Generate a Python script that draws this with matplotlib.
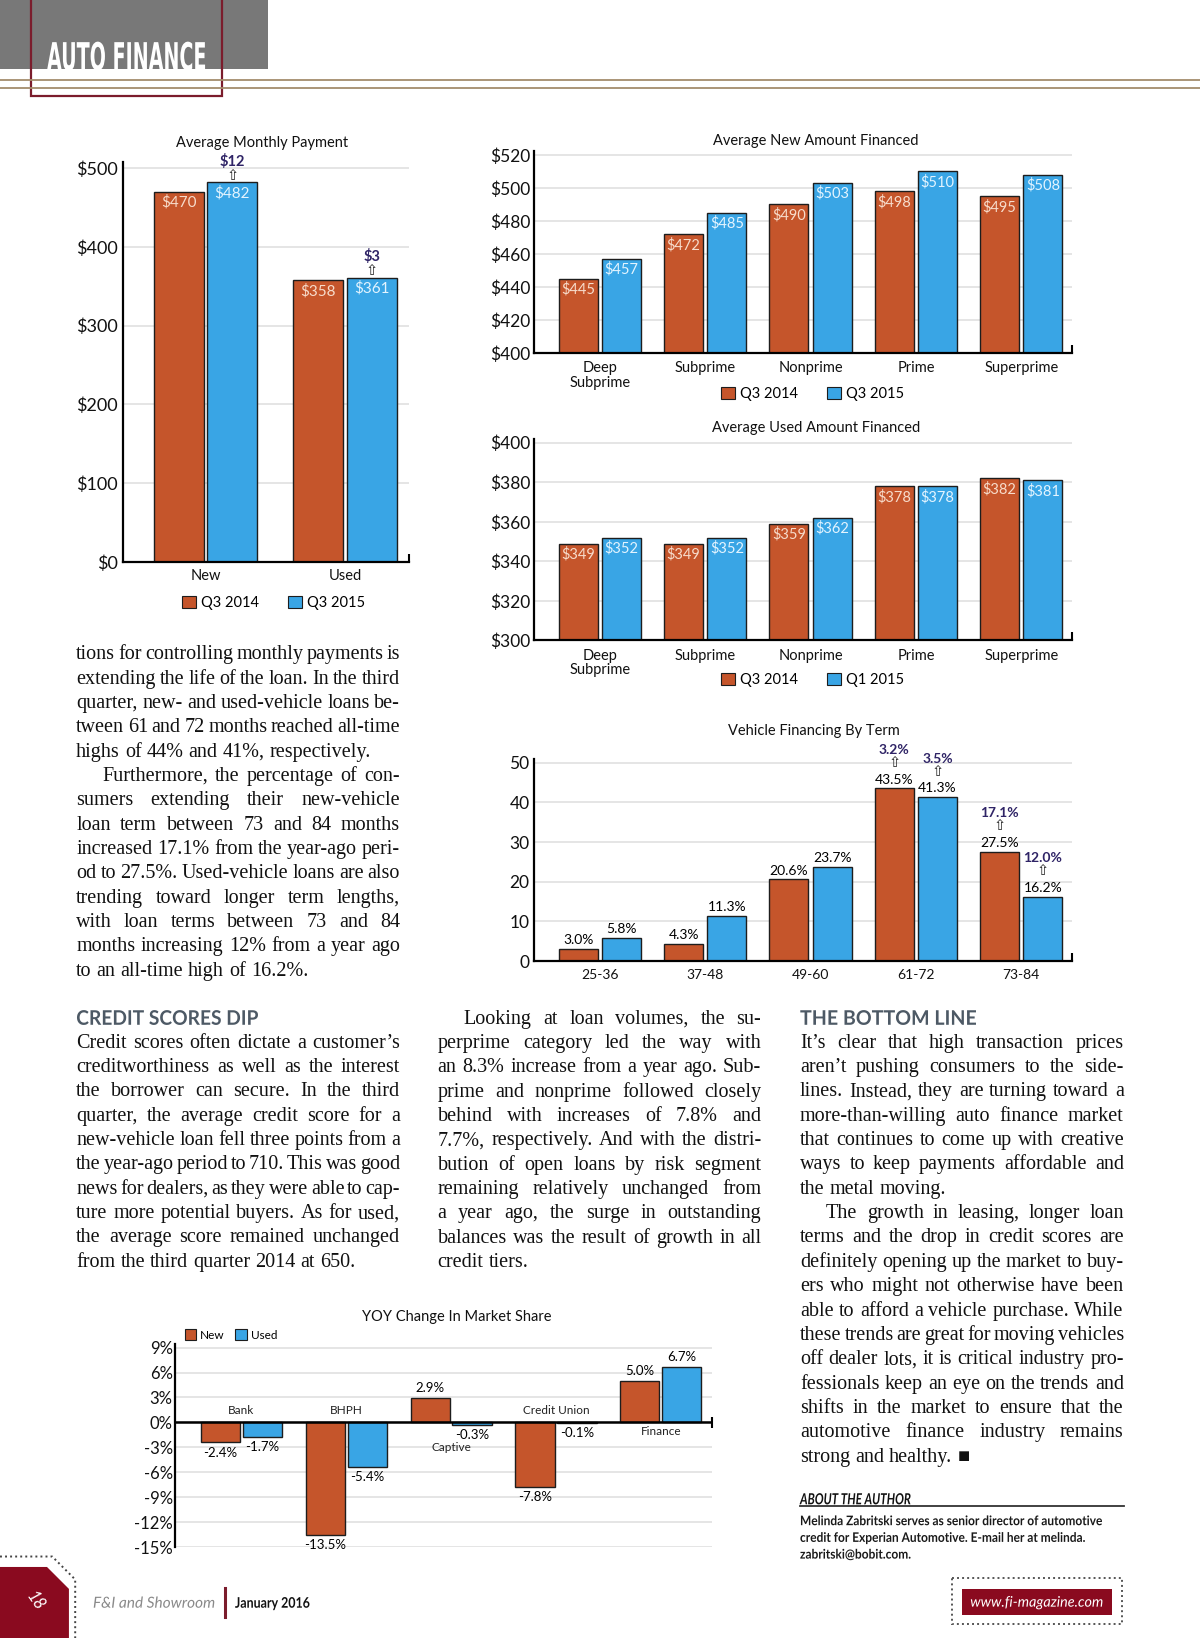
"""Auto Finance magazine page: five bar charts plus the article text."""

import numpy as np
import matplotlib
matplotlib.use('Agg')
import matplotlib.pyplot as plt
from matplotlib import patheffects
from matplotlib.font_manager import FontProperties
from matplotlib.patches import Rectangle, Polygon, Patch
from matplotlib.transforms import Affine2D

# ---------------------------------------------------------------- data
pay_cats = ['New', 'Used']
pay_q3_2014 = [470, 358]
pay_q3_2015 = [482, 361]
pay_up = ['$12', '$3']

risk_cats = ['Deep\nSubprime', 'Subprime', 'Nonprime', 'Prime', 'Superprime']
new_q3_2014 = [445, 472, 490, 498, 495]
new_q3_2015 = [457, 485, 503, 510, 508]
used_q3_2014 = [349, 349, 359, 378, 382]
used_q1_2015 = [352, 352, 362, 378, 381]

term_cats = ['25-36', '37-48', '49-60', '61-72', '73-84']
term_q3_2014 = [3.0, 4.3, 20.6, 43.5, 27.5]
term_q3_2015 = [5.8, 11.3, 23.7, 41.3, 16.2]
term_up_2014 = ['', '', '', '3.2%', '17.1%']
term_up_2015 = ['', '', '', '3.5%', '12.0%']

lender_cats = ['Bank', 'BHPH', 'Captive', 'Credit Union', 'Finance']
share_new = [-2.4, -13.5, 2.9, -7.8, 5.0]
share_used = [-1.7, -5.4, -0.3, -0.1, 6.7]

# article text, (indent first line, lines)
col1_top = [
    (False, ["tions for controlling monthly payments is",
             "extending the life of the loan. In the third",
             "quarter, new- and used-vehicle loans be-",
             "tween 61 and 72 months reached all-time",
             "highs of 44% and 41%, respectively."]),
    (True, ["Furthermore, the percentage of con-",
            "sumers extending their new-vehicle",
            "loan term between 73 and 84 months",
            "increased 17.1% from the year-ago peri-",
            "od to 27.5%. Used-vehicle loans are also",
            "trending toward longer term lengths,",
            "with loan terms between 73 and 84",
            "months increasing 12% from a year ago",
            "to an all-time high of 16.2%."]),
]
col1_bottom = [
    (False, ["Credit scores often dictate a customer\u2019s",
             "creditworthiness as well as the interest",
             "the borrower can secure. In the third",
             "quarter, the average credit score for a",
             "new-vehicle loan fell three points from a",
             "the year-ago period to 710. This was good",
             "news for dealers, as they were able to cap-",
             "ture more potential buyers. As for used,",
             "the average score remained unchanged",
             "from the third quarter 2014 at 650."]),
]
col2 = [
    (True, ["Looking at loan volumes, the su-",
            "perprime category led the way with",
            "an 8.3% increase from a year ago. Sub-",
            "prime and nonprime followed closely",
            "behind with increases of 7.8% and",
            "7.7%, respectively. And with the distri-",
            "bution of open loans by risk segment",
            "remaining relatively unchanged from",
            "a year ago, the surge in outstanding",
            "balances was the result of growth in all",
            "credit tiers."]),
]
col3 = [
    (False, ["It\u2019s clear that high transaction prices",
             "aren\u2019t pushing consumers to the side-",
             "lines. Instead, they are turning toward a",
             "more-than-willing auto finance market",
             "that continues to come up with creative",
             "ways to keep payments affordable and",
             "the metal moving."]),
    (True, ["The growth in leasing, longer loan",
            "terms and the drop in credit scores are",
            "definitely opening up the market to buy-",
            "ers who might not otherwise have been",
            "able to afford a vehicle purchase. While",
            "these trends are great for moving vehicles",
            "off dealer lots, it is critical industry pro-",
            "fessionals keep an eye on the trends and",
            "shifts in the market to ensure that the",
            "automotive finance industry remains",
            "strong and healthy. \u25a0"]),
]
author_lines = ["Melinda Zabritski serves as senior director of automotive",
                "credit for Experian Automotive. E-mail her at melinda.",
                "zabritski@bobit.com."]

# ---------------------------------------------------------------- style
ORANGE = '#c5552b'
BLUE = '#39a5e5'
EDGE = '#1d1d1d'
NAVY = '#2f2466'
RED = '#8a0a1f'
INK = '#111111'
GRID = '#dedede'
SANS = ['Lato', 'DejaVu Sans']
SERIF = ['Liberation Serif', 'DejaVu Serif', 'DejaVu Sans']
plt.rcParams['font.family'] = SANS

W, H = 1149.0, 1568.0          # page units (reference pixels)
PX = W / 1200.0                 # page units per output pixel
PT = 0.752                      # points per page unit

fig = plt.figure(figsize=(12, 16.38), dpi=100)
page = fig.add_axes([0, 0, 1, 1])
page.set_xlim(0, W)
page.set_ylim(H, 0)
page.axis('off')
renderer = fig.canvas.get_renderer()


class Condense(patheffects.AbstractPathEffect):
    """Squeeze glyphs horizontally about the text origin."""

    def __init__(self, sx):
        super().__init__()
        self.sx = sx

    def draw_path(self, renderer, gc, tpath, affine, rgbFace=None):
        ox, oy = affine.transform(np.array([[0.0, 0.0]]))[0]
        squeeze = Affine2D().translate(-ox, 0).scale(self.sx, 1).translate(ox, 0)
        renderer.draw_path(gc, tpath, affine + squeeze, rgbFace)


def text_width(s, family, size, weight='normal', style='normal'):
    prop = FontProperties(family=family, size=size, weight=weight, style=style)
    w, h, d = renderer.get_text_width_height_descent(s, prop, ismath=False)
    return w * PX


def page_text(x, y, s, family=SANS, size=10, weight='normal', style='normal',
              width=None, sx=None, ha='left', **kw):
    w = text_width(s, family, size, weight, style)
    if width is not None:
        sx = width / w
    if sx is not None:
        w = w * sx
    if ha == 'center':
        x -= w / 2
    elif ha == 'right':
        x -= w
    t = page.text(x, y, s, family=family, size=size, weight=weight,
                  style=style, ha='left', **kw)
    if sx is not None:
        t.set_path_effects([Condense(sx)])
    return t


def chart_axes(box):
    x0, y0, x1, y1 = box
    ax = fig.add_axes([x0 / W, 1 - y1 / H, (x1 - x0) / W, (y1 - y0) / H])
    ax.set_facecolor('none')
    for s in ('top', 'right'):
        ax.spines[s].set_visible(False)
    ax.spines['left'].set_linewidth(1.6)
    ax.spines['bottom'].set_linewidth(1.6)
    ax.tick_params(length=0, colors='#111111')
    ax.set_axisbelow(True)
    ax.yaxis.grid(True, color=GRID, lw=1.1)
    return ax


def frac(box, px, py):
    x0, y0, x1, y1 = box
    return (px - x0) / (x1 - x0), (y1 - py) / (y1 - y0)


def chart_title(ax, box, s, cx, cy, size=10.5):
    ax.text(*frac(box, cx, cy), s, transform=ax.transAxes, ha='center',
            va='center', fontsize=size, color='#111111')


def end_tick(ax, box, y0=0.0, up=8, down=0):
    h = box[3] - box[1]
    ax.plot([1, 1], [y0 - down / h, y0 + up / h], transform=ax.transAxes,
            color='k', lw=1.5, clip_on=False, solid_capstyle='butt')


def pair_legend(ax, box, labels, cx, cy, size=10.5, colspace=2.0, loc='center'):
    handles = [Patch(facecolor=ORANGE, edgecolor=EDGE, lw=0.8),
               Patch(facecolor=BLUE, edgecolor=EDGE, lw=0.8)]
    ax.legend(handles, labels, loc=loc, bbox_to_anchor=frac(box, cx, cy),
              ncol=2, frameon=False, fontsize=size, handlelength=0.95,
              handleheight=0.95, handletextpad=0.35, columnspacing=colspace,
              borderpad=0, borderaxespad=0)


def inside_labels(ax, xs, vals, color, size):
    for xi, v in zip(xs, vals):
        ax.annotate(f'${v}', (xi, v), xytext=(0, -2.5), textcoords='offset points',
                    ha='center', va='top', color=color, fontsize=size)


def up_note(ax, xi, v, s, arrow_dy, text_dy, size=10.5):
    ax.annotate('\u21e7', (xi, v), xytext=(0, arrow_dy * PT), textcoords='offset points',
                ha='center', va='center', color='#222222', fontsize=10.5,
                family=['DejaVu Sans'], annotation_clip=False)
    ax.annotate(s, (xi, v), xytext=(0, text_dy * PT), textcoords='offset points',
                ha='center', va='center', color=NAVY, fontsize=size,
                weight='bold', annotation_clip=False)


# ---------------------------------------------------------------- header
page.add_patch(Rectangle((0, 0), 257, 66, color='#787878', lw=0))
page.add_patch(Rectangle((30, -10), 183, 102, fill=False, ec='#7b1c2c', lw=1.6))
for yy in (76.6, 84.3):
    page.plot([0, W], [yy, yy], color='#a48c6c', lw=1.3)
page_text(45, 67, 'AUTO FINANCE', family=['DejaVu Sans'], size=27.5,
          weight='bold', width=153, color='white', va='baseline')

# ---------------------------------------------------------------- chart 1
BOX_PAY = (118, 155, 392, 538)
ax = chart_axes(BOX_PAY)
x = np.arange(len(pay_cats))
w1, o1 = 0.359, 0.1925
ax.bar(x - o1, pay_q3_2014, w1, color=ORANGE, edgecolor=EDGE, lw=1)
ax.bar(x + o1, pay_q3_2015, w1, color=BLUE, edgecolor=EDGE, lw=1)
ax.set_xlim(-0.589, 1.46)
ax.set_ylim(0, 508)
ax.set_yticks(range(0, 501, 100), [f'${v}' for v in range(0, 501, 100)], fontsize=13)
ax.set_xticks(x, pay_cats, fontsize=10.5)
ax.tick_params(axis='x', pad=5)
ax.tick_params(axis='y', pad=4)
inside_labels(ax, x - o1, pay_q3_2014, '#f7dccb', 11)
inside_labels(ax, x + o1, pay_q3_2015, '#e3f4ff', 11)
for xi, v, s in zip(x + o1, pay_q3_2015, pay_up):
    up_note(ax, xi, v, s, 7, 20)
end_tick(ax, BOX_PAY)
chart_title(ax, BOX_PAY, 'Average Monthly Payment', 251, 137)
pair_legend(ax, BOX_PAY, ['Q3 2014', 'Q3 2015'], 262, 577)

# ---------------------------------------------------------------- charts 2 and 3
W2, O2 = 0.37, 0.2055
XL2 = (-0.628, 4.477)


def risk_chart(box, a, b, lo, hi, title, tcy, legend_labels, lcy):
    ax = chart_axes(box)
    x = np.arange(len(risk_cats))
    ax.bar(x - O2, a, W2, color=ORANGE, edgecolor=EDGE, lw=1)
    ax.bar(x + O2, b, W2, color=BLUE, edgecolor=EDGE, lw=1)
    ax.set_xlim(*XL2)
    ax.set_ylim(lo, hi + 2)
    ticks = range(lo, hi + 1, 20)
    ax.set_yticks(ticks, [f'${v}' for v in ticks], fontsize=12.5)
    ax.set_xticks(x, risk_cats, fontsize=10.5)
    for lbl in ax.get_xticklabels():
        lbl.set_linespacing(1.05)
    ax.tick_params(axis='x', pad=6)
    ax.tick_params(axis='y', pad=2)
    inside_labels(ax, x - O2, a, '#f7dccb', 10.5)
    inside_labels(ax, x + O2, b, '#e3f4ff', 10.5)
    end_tick(ax, box)
    chart_title(ax, box, title, 781, tcy)
    pair_legend(ax, box, legend_labels, 778, lcy)
    return ax


risk_chart((511, 145, 1026, 338), new_q3_2014, new_q3_2015, 400, 520,
           'Average New Amount Financed', 135, ['Q3 2014', 'Q3 2015'], 377)
risk_chart((511, 420, 1026, 613), used_q3_2014, used_q1_2015, 300, 400,
           'Average Used Amount Financed', 410, ['Q3 2014', 'Q1 2015'], 651)

# ---------------------------------------------------------------- chart 4
BOX_TERM = (511, 727, 1026, 920)
ax = chart_axes(BOX_TERM)
x = np.arange(len(term_cats))
ba = ax.bar(x - O2, term_q3_2014, W2, color=ORANGE, edgecolor=EDGE, lw=1)
bb = ax.bar(x + O2, term_q3_2015, W2, color=BLUE, edgecolor=EDGE, lw=1)
ax.set_xlim(*XL2)
ax.set_ylim(0, 50.8)
ax.set_yticks(range(0, 51, 10), [str(v) for v in range(0, 51, 10)], fontsize=12.5)
ax.set_xticks(x, term_cats, fontsize=10)
ax.tick_params(axis='x', pad=6)
ax.tick_params(axis='y', pad=3)
ax.bar_label(ba, labels=[f'{v:.1f}%' for v in term_q3_2014], padding=2, fontsize=10)
ax.bar_label(bb, labels=[f'{v:.1f}%' for v in term_q3_2015], padding=2, fontsize=10)
for xs, vals, notes in ((x - O2, term_q3_2014, term_up_2014),
                        (x + O2, term_q3_2015, term_up_2015)):
    for xi, v, s in zip(xs, vals, notes):
        if s:
            up_note(ax, xi, v, s, 25, 37, size=10)
end_tick(ax, BOX_TERM)
chart_title(ax, BOX_TERM, 'Vehicle Financing By Term', 779, 700)

# ---------------------------------------------------------------- chart 5
BOX_YOY = (168, 1287, 682, 1481)
lender_label_dy = [-11.6, -11.6, 24.4, -11.6, 8.4]   # page units, + is down
ax = chart_axes(BOX_YOY)
ax.spines['bottom'].set_visible(False)
x = np.arange(len(lender_cats))
W5, O5 = 0.373, 0.2
ba = ax.bar(x - O5, share_new, W5, color=ORANGE, edgecolor=EDGE, lw=1)
bb = ax.bar(x + O5, share_used, W5, color=BLUE, edgecolor=EDGE, lw=1)
ax.axhline(0, color='k', lw=1.8)
ax.set_xlim(-0.627, 4.49)
ax.set_ylim(-15, 9.38)
yt = list(range(9, -16, -3))
ax.set_yticks(yt, [f'{v}%' for v in yt], fontsize=12)
ax.tick_params(axis='y', pad=2)
ax.set_xticks([])
ax.bar_label(ba, labels=[f'{v:.1f}%' for v in share_new], padding=3, fontsize=9.5)
ax.bar_label(bb, labels=[f'{v:.1f}%' for v in share_used], padding=3, fontsize=9.5)
for xi, cat, dy in zip(x, lender_cats, lender_label_dy):
    ax.annotate(cat, (xi, 0), xytext=(0, -dy * PT), textcoords='offset points',
                ha='center', va='center', fontsize=8.5, color='#222222')
end_tick(ax, BOX_YOY, y0=frac(BOX_YOY, 0, 1361.6)[1], up=5, down=5)
chart_title(ax, BOX_YOY, 'YOY Change In Market Share', 437, 1261)
pair_legend(ax, BOX_YOY, ['New', 'Used'], 177, 1278, size=8.5, colspace=0.9,
            loc='center left')

# ---------------------------------------------------------------- article text
COL_W = 310.0
INDENT = 25.0
LEAD = 23.3


def para_lines(paras):
    for indent, lines in paras:
        for i, line in enumerate(lines):
            yield indent and i == 0, i == len(lines) - 1, line


# pick the body size so the tightest justified line still fits its column
fs = 14.5
sp10 = text_width('n n', SERIF, 10) - text_width('nn', SERIF, 10)
for paras in (col1_top, col1_bottom, col2, col3):
    for ind, last, line in para_lines(paras):
        words = line.split()
        need = sum(text_width(wd, SERIF, 10) for wd in words) + 0.5 * sp10 * (len(words) - 1)
        avail = COL_W - (INDENT if ind else 0)
        fs = min(fs, 10 * avail / need)


def set_column(x0, y0, paras):
    sp = text_width('n n', SERIF, fs) - text_width('nn', SERIF, fs)
    y = y0
    for ind, last, line in para_lines(paras):
        words = line.split()
        left = x0 + (INDENT if ind else 0)
        widths = [text_width(wd, SERIF, fs) for wd in words]
        if last or len(words) < 2:
            gap = sp
        else:
            gap = (x0 + COL_W - left - sum(widths)) / (len(words) - 1)
        xx = left
        for wd, ww in zip(words, widths):
            page.text(xx, y + 5, wd, family=SERIF, size=fs, color=INK, va='baseline')
            xx += ww + gap
        y += LEAD


set_column(73, 626, col1_top)
set_column(73, 998, col1_bottom)
set_column(419, 975, col2)
set_column(766, 998, col3)

page_text(73, 981, 'CREDIT SCORES DIP', size=14.5, weight='bold', width=174,
          color='#4d5965', va='baseline')
page_text(766, 981, 'THE BOTTOM LINE', size=14.5, weight='bold', width=169,
          color='#4d5965', va='baseline')

# about the author
page_text(766, 1440, 'ABOUT THE AUTHOR', size=11, weight='bold', style='italic',
          width=106, color='#111111', va='baseline')
page.plot([766, 1076], [1442, 1442], color='#333333', lw=1.3)
sx_a = 291 / text_width(author_lines[0], SANS, 9.5, 'bold')
for i, line in enumerate(author_lines):
    page_text(766, 1460 + 16 * i, line, size=9.5, weight='bold', sx=sx_a,
              color='#1a1a1a', va='baseline')

# ---------------------------------------------------------------- footer
page.add_patch(Polygon([(0, 1500), (45, 1500), (66, 1521), (66, 1568), (0, 1568)],
                       closed=True, color=RED, lw=0))
page.plot([0, 50, 72, 72], [1490, 1490, 1512, 1568], color='#444444', lw=1.4,
          ls=(0, (1, 1.6)))
page.text(33, 1533, '18', rotation=-55, color='white', ha='center', va='center',
          size=12, style='italic')
page_text(89, 1539, 'F&I and Showroom', size=11, style='italic', width=117,
          color='#8a8a8a', va='baseline')
page.plot([215, 215], [1520, 1548], color='#7b1c2c', lw=2.2)
page_text(225, 1539, 'January 2016', size=10.5, weight='bold', width=72,
          color='#111111', va='baseline')
page.add_patch(Rectangle((912, 1511), 162, 44, fill=False, ec='#555555', lw=1.4,
                         ls=(0, (1, 1.6))))
page.add_patch(Rectangle((921, 1521), 144, 25, color=RED, lw=0))
page_text(993, 1538, 'www.fi-magazine.com', size=10.5, style='italic', width=128,
          ha='center', color='white', va='baseline')

fig.savefig('out.png', dpi=100)
